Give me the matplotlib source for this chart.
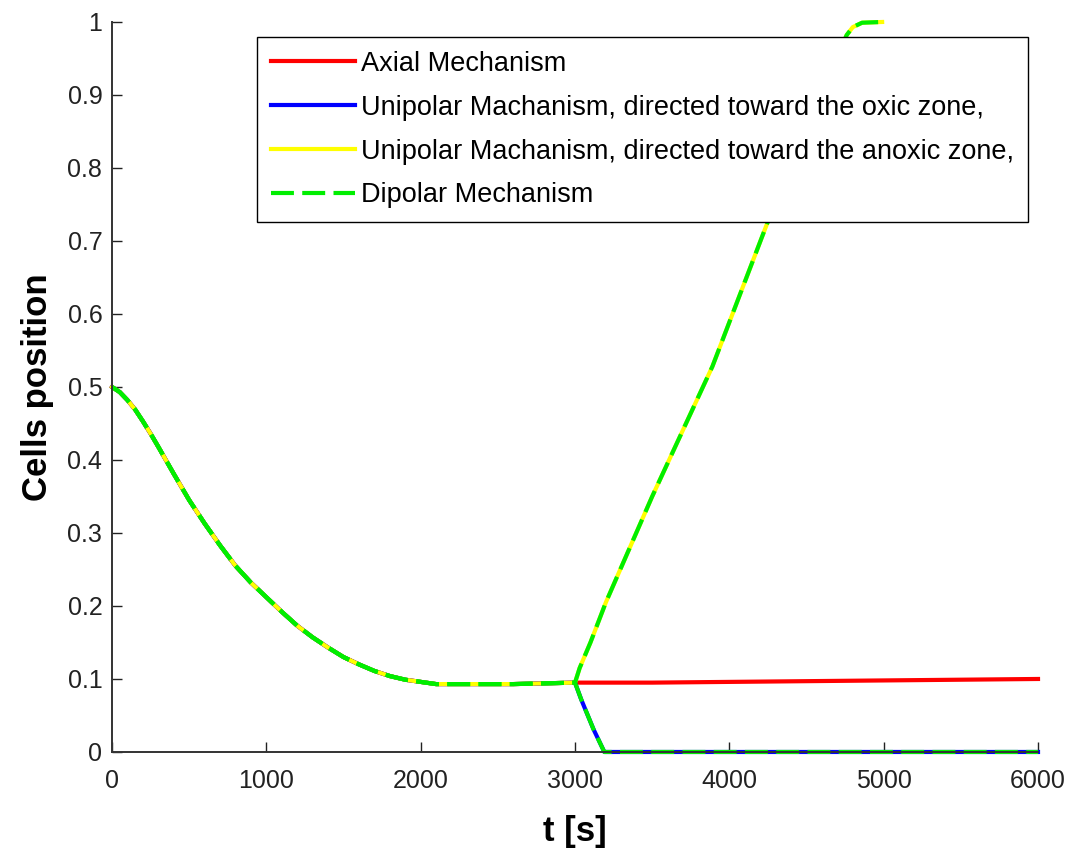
import numpy as np
import matplotlib
matplotlib.use("Agg")
import matplotlib.pyplot as plt

# Tramo comun (todas las curvas coinciden hasta t = 3000 s)
t_comun = [0, 50, 100, 150, 200, 250, 300, 400, 500, 600, 700, 800, 900,
           1000, 1100, 1200, 1300, 1400, 1500, 1600, 1700, 1800, 1900, 2000,
           2100, 2200, 2400, 2600, 2800, 3000]
v_comun = [0.500, 0.493, 0.482, 0.469, 0.453, 0.436, 0.418, 0.381, 0.345,
           0.313, 0.283, 0.255, 0.232, 0.212, 0.192, 0.173, 0.157, 0.143,
           0.130, 0.120, 0.111, 0.104, 0.099, 0.096, 0.093, 0.093, 0.093,
           0.093, 0.094, 0.095]

# Ramas despues de t = 3000 s
t_axial = [3000, 3500, 4000, 4500, 5000, 5500, 6000]
v_axial = [0.095, 0.095, 0.096, 0.097, 0.098, 0.099, 0.100]

t_oxic = [3000, 3040, 3120, 3190, 6000]
v_oxic = [0.095, 0.072, 0.031, 0.0, 0.0]

t_anoxic = [3000, 3030, 3100, 3200, 3500, 3890, 4245, 4500, 4760,
            4800, 4860, 4990]
v_anoxic = [0.095, 0.115, 0.150, 0.205, 0.350, 0.528, 0.724, 0.852,
            0.982, 0.993, 0.999, 1.000]

etiquetas = ["Axial Mechanism",
             "Unipolar Machanism, directed toward the oxic zone,",
             "Unipolar Machanism, directed toward the anoxic zone,",
             "Dipolar Mechanism"]
colores = ["#ff0000", "#0000ff", "#ffff00", "#00ee00"]


def une(ta, va, tb, vb):
    return np.array(ta + tb[1:]), np.array(va + vb[1:])


plt.rcParams["font.family"] = ["Liberation Sans", "DejaVu Sans"]

fig = plt.figure(figsize=(10.71, 8.52), dpi=100)
ax = fig.add_axes([0.1046, 0.1174, 0.8646, 0.8568])

lw = 3.0
guiones = (0, (5.5, 2.0))
ta, va = une(t_comun, v_comun, t_axial, v_axial)
ax.plot(ta, va, color=colores[0], lw=lw, label=etiquetas[0], clip_on=False)
to, vo = une(t_comun, v_comun, t_oxic, v_oxic)
ax.plot(to, vo, color=colores[1], lw=lw, label=etiquetas[1], clip_on=False)
tn, vn = une(t_comun, v_comun, t_anoxic, v_anoxic)
ax.plot(tn, vn, color=colores[2], lw=lw, label=etiquetas[2], clip_on=False)
ax.plot(tn, vn, color=colores[3], lw=lw, ls=guiones,
        dash_capstyle="butt", label=etiquetas[3], clip_on=False)
ax.plot(to, vo, color=colores[3], lw=lw, ls=guiones,
        dash_capstyle="butt", clip_on=False)

ax.set_xlim(0, 6000)
ax.set_ylim(0, 1)
ax.set_xticks(np.arange(0, 6001, 1000))
ax.set_yticks(np.arange(0, 1.01, 0.1))
ax.set_yticklabels(["0", "0.1", "0.2", "0.3", "0.4", "0.5", "0.6", "0.7",
                    "0.8", "0.9", "1"])
ax.tick_params(direction="in", length=7, width=1, labelsize=18,
               colors="#222222")
ax.tick_params(axis="x", pad=12)
ax.tick_params(axis="y", pad=7)
for s in ["top", "right"]:
    ax.spines[s].set_visible(False)
for s in ["left", "bottom"]:
    ax.spines[s].set_linewidth(1.4)
    ax.spines[s].set_color("#333333")

ax.set_xlabel("t [s]", fontsize=25, fontweight="bold", labelpad=16)
ax.set_ylabel("Cells position", fontsize=25, fontweight="bold", labelpad=10)

leg = ax.legend(loc="upper left", bbox_to_anchor=(0.1566, 0.979),
                borderaxespad=0, fontsize=19.5, handlelength=3.1,
                handletextpad=0.25, labelspacing=0.66, borderpad=0.5,
                fancybox=False, framealpha=1, edgecolor="black")
leg.get_frame().set_linewidth(1.0)

fig.savefig("out.png", dpi=100, facecolor="white")
